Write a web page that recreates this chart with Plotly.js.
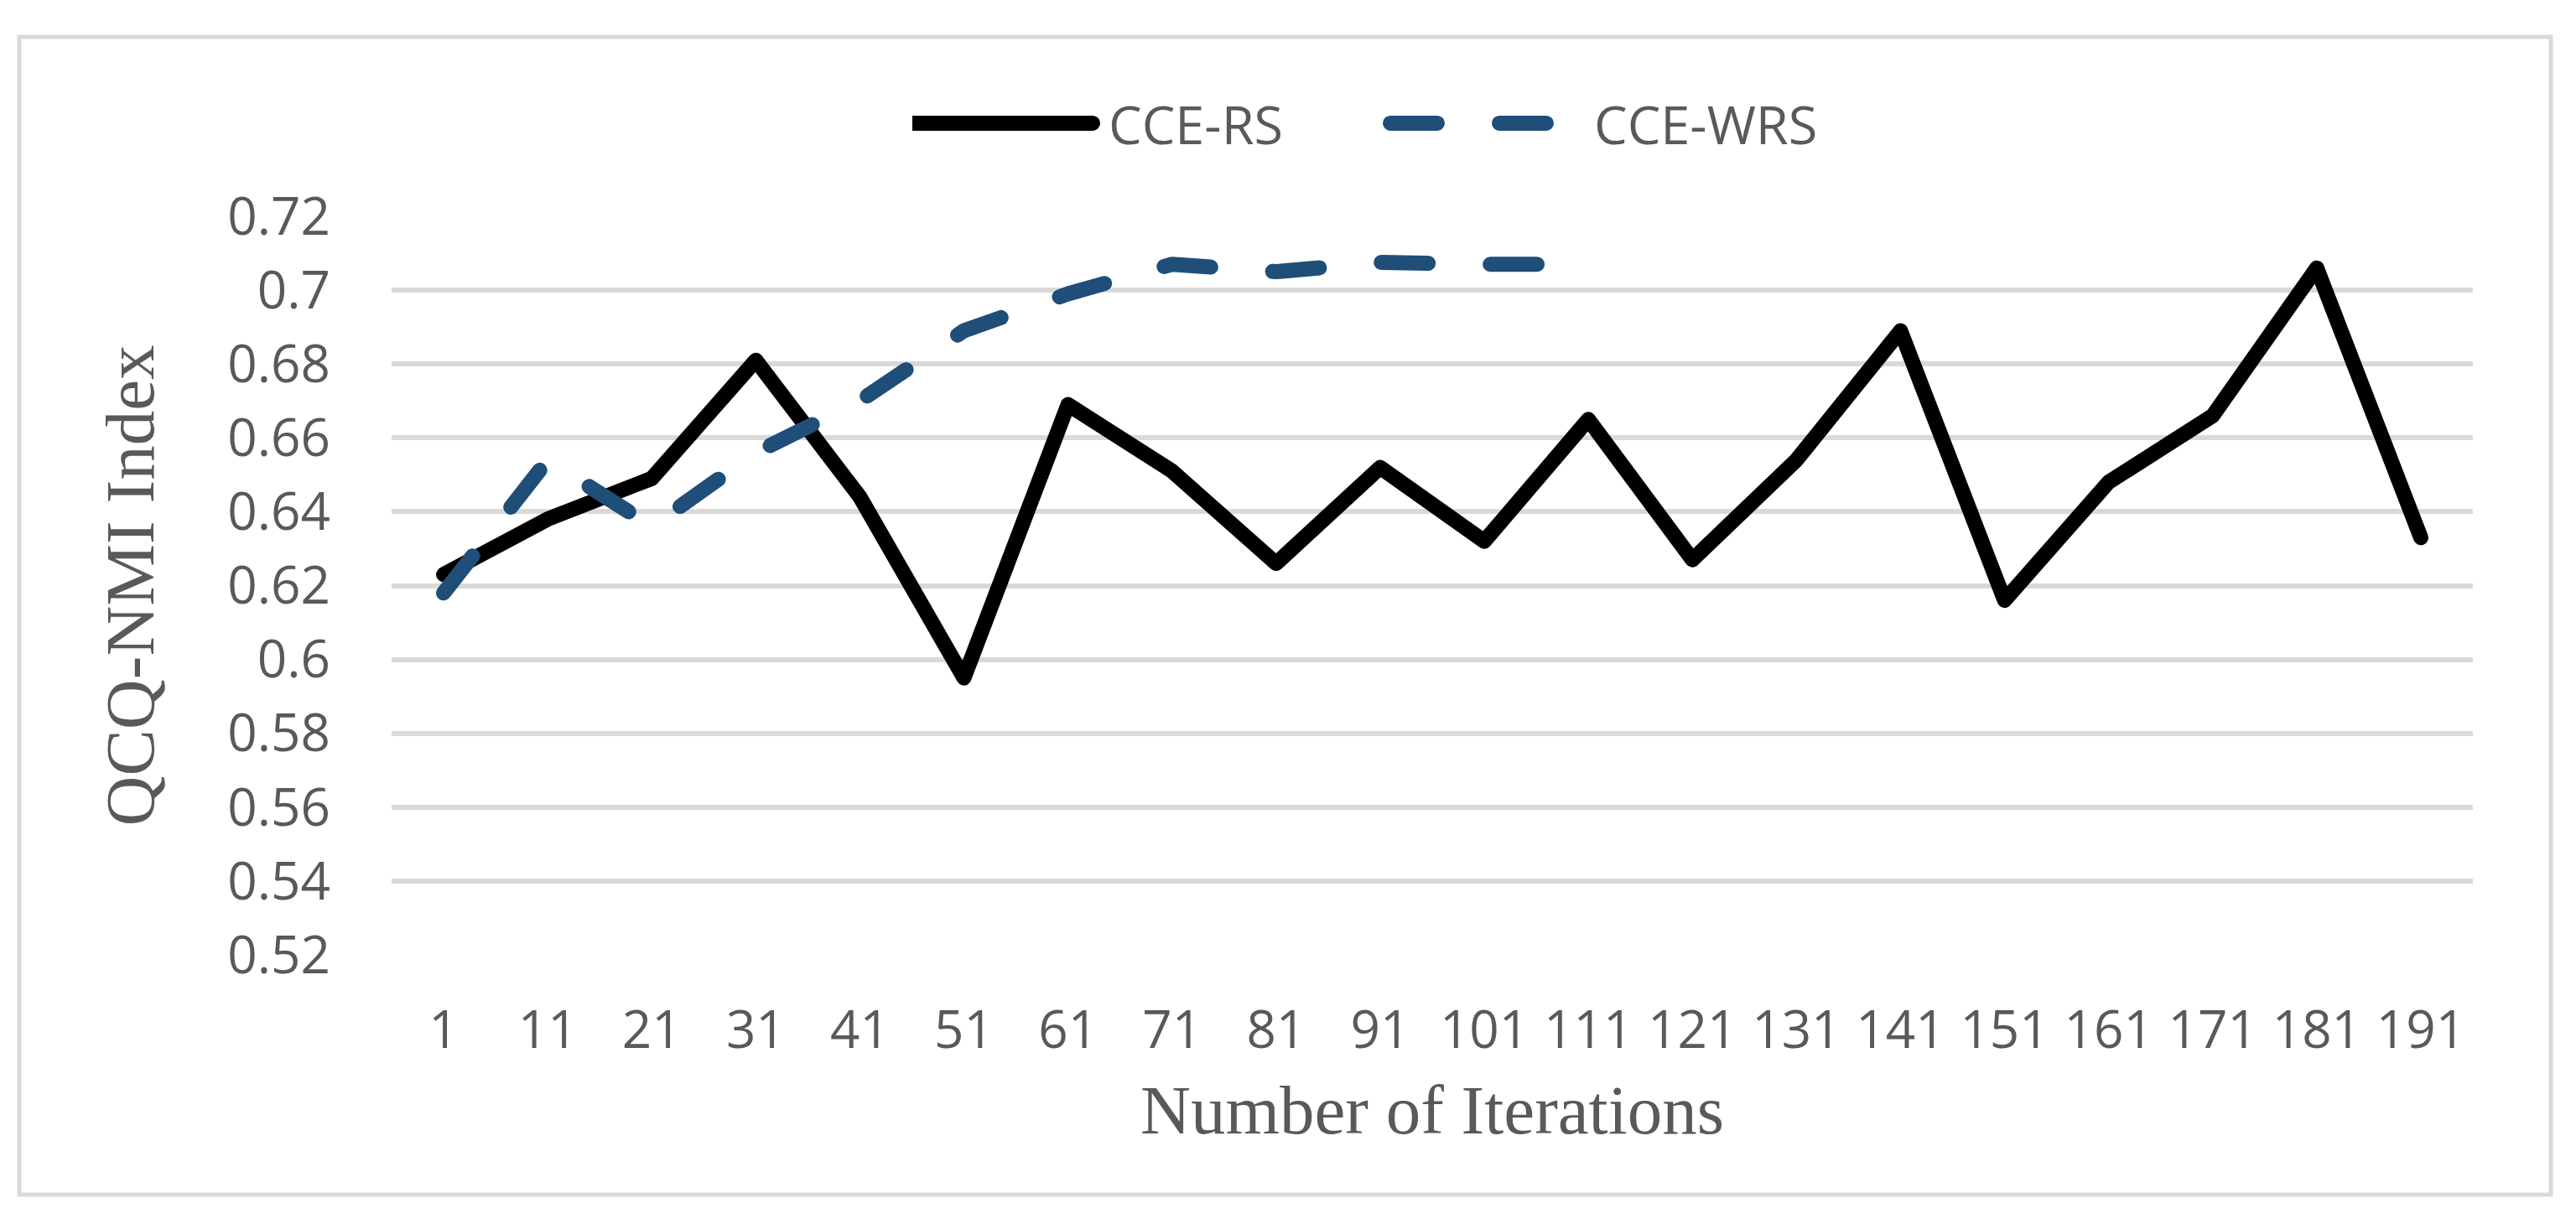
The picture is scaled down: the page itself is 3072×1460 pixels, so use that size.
<!DOCTYPE html>
<html>
<head>
<meta charset="utf-8">
<script src="https://cdn.plot.ly/plotly-3.0.1.min.js"></script>
<style>
  html, body { margin: 0; padding: 0; background: #ffffff; }
  #chart { width: 3072px; height: 1460px; }
  path.js-line { stroke-linecap: round !important; stroke-linejoin: round !important; }
  .legend path.js-line { stroke-width: 18px !important; transform: translateX(-14px); }
</style>
</head>
<body>
<div id="chart"></div>
<script>
// ---- data ----
const iterations = ["1","11","21","31","41","51","61","71","81","91","101","111","121","131","141","151","161","171","181","191"];
const cceRS  = [0.623, 0.638, 0.649, 0.681, 0.644, 0.595, 0.669, 0.651, 0.626, 0.652, 0.632, 0.665, 0.627, 0.654, 0.689, 0.616, 0.648, 0.666, 0.706, 0.633];
const cceWRSIterations = ["1","11","21","31","41","51","61","71","81","91","101","111"];
const cceWRS = [0.618, 0.654, 0.636, 0.656, 0.670, 0.689, 0.699, 0.707, 0.705, 0.7075, 0.707, 0.707];
const yTickVals  = [0.52, 0.54, 0.56, 0.58, 0.6, 0.62, 0.64, 0.66, 0.68, 0.7, 0.72];
const yTickTexts = ["0.52","0.54","0.56","0.58","0.6","0.62","0.64","0.66","0.68","0.7","0.72"];
const seriesNames = ["CCE-RS", "CCE-WRS"];

// ---- layout geometry (pixels) ----
const W = 3072, H = 1460;
const plotL = 467, plotR = 2949, plotT = 258, plotB = 1139;
const pw = plotR - plotL, ph = plotB - plotT;
const px2x = p => (p - plotL) / pw;
const px2y = p => (plotB - p) / ph;

const tickFont = { family: "Open Sans, Noto Sans, sans-serif", size: 62, color: "#595959" };
const titleFont = { family: "Liberation Serif, Times New Roman, serif", size: 83, color: "#595959" };

const traces = [
  {
    type: "scatter", mode: "lines", name: seriesNames[0],
    x: iterations, y: cceRS,
    line: { color: "#000000", width: 18 }
  },
  {
    type: "scatter", mode: "lines", name: seriesNames[1],
    x: cceWRSIterations, y: cceWRS,
    line: { color: "#1F4E79", width: 18, dash: "56px,74px" }
  }
];

const layout = {
  width: W, height: H,
  margin: { l: plotL, r: W - plotR, t: plotT, b: H - plotB, pad: 0 },
  paper_bgcolor: "#ffffff",
  plot_bgcolor: "#ffffff",
  showlegend: true,
  legend: {
    orientation: "h",
    x: px2x(1088), xanchor: "left",
    y: px2y(147), yanchor: "middle",
    font: { family: "Open Sans, Noto Sans, sans-serif", size: 63, color: "#595959" },
    bgcolor: "rgba(0,0,0,0)",
    itemwidth: 224,
    entrywidth: 340,
    entrywidthmode: "pixels",
    traceorder: "normal"
  },
  xaxis: {
    type: "category",
    categoryorder: "array",
    categoryarray: iterations,
    range: [-0.5, iterations.length - 0.5],
    showgrid: false, zeroline: false, showline: false,
    ticks: "",
    tickfont: tickFont,
    ticklabelstandoff: 48,
    tickangle: 0,
    title: { text: "Number of Iterations", font: titleFont, standoff: 26 }
  },
  yaxis: {
    range: [0.52, 0.72],
    tickvals: yTickVals,
    ticktext: yTickTexts,
    showgrid: true, gridcolor: "#D9D9D9", gridwidth: 6,
    zeroline: false, showline: false,
    ticks: "",
    tickfont: tickFont,
    ticklabelstandoff: 72,
    title: { text: "QCQ-NMI Index", font: titleFont, standoff: 60 }
  },
  shapes: [
    {
      type: "rect", xref: "paper", yref: "paper", layer: "below",
      x0: px2x(23), x1: px2x(3042), y0: px2y(1425), y1: px2y(44),
      line: { color: "#D9D9D9", width: 5 },
      fillcolor: "rgba(0,0,0,0)"
    }
  ]
};

Plotly.newPlot("chart", traces, layout, { staticPlot: true, displayModeBar: false });
</script>
</body>
</html>
